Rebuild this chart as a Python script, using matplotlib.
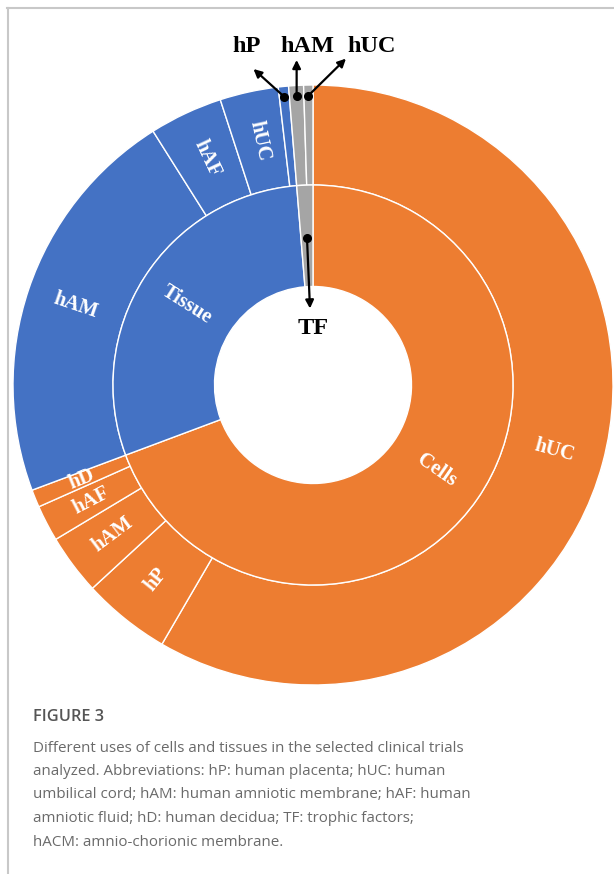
import numpy as np
import matplotlib
matplotlib.use("Agg")
import matplotlib.pyplot as plt
from matplotlib.lines import Line2D

# ---- data (percent of trials) ----
inner_labels = ["Cells", "Tissue", "TF"]
inner_values = [69.3, 29.4, 1.3]

outer_labels = ["hUC", "hP", "hAM", "hAF", "hD",      # Cells
                "hAM", "hAF", "hUC", "hP",             # Tissue
                "hAM", "hUC"]                          # TF
outer_values = [58.4, 4.75, 3.25, 1.95, 0.95,
                21.75, 3.95, 3.15, 0.55,
                0.8, 0.5]
outer_group = [0, 0, 0, 0, 0, 1, 1, 1, 1, 2, 2]

group_colors = ["#ED7D31", "#4472C4", "#A5A5A5"]

caption_title = "FIGURE 3"
caption_lines = [
    "Different uses of cells and tissues in the selected clinical trials",
    "analyzed. Abbreviations: hP: human placenta; hUC: human",
    "umbilical cord; hAM: human amniotic membrane; hAF: human",
    "amniotic fluid; hD: human decidua; TF: trophic factors;",
    "hACM: amnio-chorionic membrane.",
]

W, H = 614, 874
fig = plt.figure(figsize=(W / 100, H / 100), dpi=100)
ax = fig.add_axes([0, 0, 1, 1])
S = 300.0
cx, cy = 313.0, 385.0

wp = dict(edgecolor="white", linewidth=1.0)
outer_w, _ = ax.pie(outer_values, radius=1.0, startangle=90, counterclock=False,
                    colors=[group_colors[g] for g in outer_group],
                    wedgeprops=dict(width=1 / 3, **wp))
inner_w, _ = ax.pie(inner_values, radius=2 / 3, startangle=90, counterclock=False,
                    colors=group_colors, wedgeprops=dict(width=1 / 3 + 0.005, **wp))
ax.set_xlim(-cx / S, (W - cx) / S)
ax.set_ylim(-(H - cy) / S, cy / S)
ax.set_aspect("equal")
ax.axis("off")


def mid_angle(w):
    return np.deg2rad((w.theta1 + w.theta2) / 2)


def radial_label(w, r, text, fs=14.8):
    a = mid_angle(w)
    deg = np.rad2deg(a)
    rot = deg
    if np.cos(a) < 0:
        rot = deg + 180
    rot = (rot + 180) % 360 - 180
    ax.text(r * np.cos(a), r * np.sin(a), text, rotation=rot, rotation_mode="anchor",
            ha="center", va="center", color="white", fontsize=fs,
            fontweight="bold", family="Liberation Serif")


for w, lab, g in zip(outer_w, outer_labels, outer_group):
    if g == 2 or (g == 1 and lab == "hP"):
        continue
    radial_label(w, 5 / 6, lab)
for w, lab in zip(inner_w, inner_labels):
    if lab == "TF":
        continue
    radial_label(w, 0.5, lab)

# annotations for thin wedges
ann_font = dict(fontsize=17.5, fontweight="bold", family="Liberation Serif", color="black")
ann = [(outer_w[8], 0.965, "hP", (-0.103, 0.093), (-0.223, 1.127)),
       (outer_w[9], 0.965, "hAM", (0.0, 0.12), (-0.02, 1.127)),
       (outer_w[10], 0.965, "hUC", (0.125, 0.123), (0.197, 1.127))]
for w, r, lab, d, tpos in ann:
    a = mid_angle(w)
    x0, y0 = r * np.cos(a), r * np.sin(a)
    ax.plot(x0, y0, "o", color="black", markersize=5.5, zorder=5)
    ax.annotate("", xy=(x0 + d[0], y0 + d[1]), xytext=(x0, y0),
                arrowprops=dict(arrowstyle="-|>", color="black", lw=1.6,
                                mutation_scale=12, shrinkA=0, shrinkB=0), zorder=5)
    ax.text(tpos[0], tpos[1], lab, ha="center", va="center", **ann_font)

a = mid_angle(inner_w[2])
x0, y0 = 0.49 * np.cos(a), 0.49 * np.sin(a)
ax.plot(x0, y0, "o", color="black", markersize=5.5, zorder=5)
ax.annotate("", xy=(x0 + 0.01, 0.255), xytext=(x0, y0),
            arrowprops=dict(arrowstyle="-|>", color="black", lw=1.6,
                            mutation_scale=12, shrinkA=0, shrinkB=0), zorder=5)
ax.text(0.0, 0.19, "TF", ha="center", va="center", **ann_font)

# frame lines (top and left)
fig.add_artist(Line2D([7 / W, 1], [1 - 7.5 / H, 1 - 7.5 / H], color="#c8c8c8", lw=1.5))
fig.add_artist(Line2D([7.5 / W, 7.5 / W], [0, 1 - 7.5 / H], color="#c8c8c8", lw=1.5))

# caption
fig.text(33 / W, 1 - 717 / H, caption_title, fontsize=11.8, color="#555555",
         fontweight="semibold", family="Open Sans", va="center", ha="left")
for i, line in enumerate(caption_lines):
    fig.text(33 / W, 1 - (748 + i * 23.5) / H, line, fontsize=10.9, color="#6a6a6a",
             family="Open Sans", fontweight="normal", va="center", ha="left")

fig.savefig("out.png", dpi=100, facecolor="white")
